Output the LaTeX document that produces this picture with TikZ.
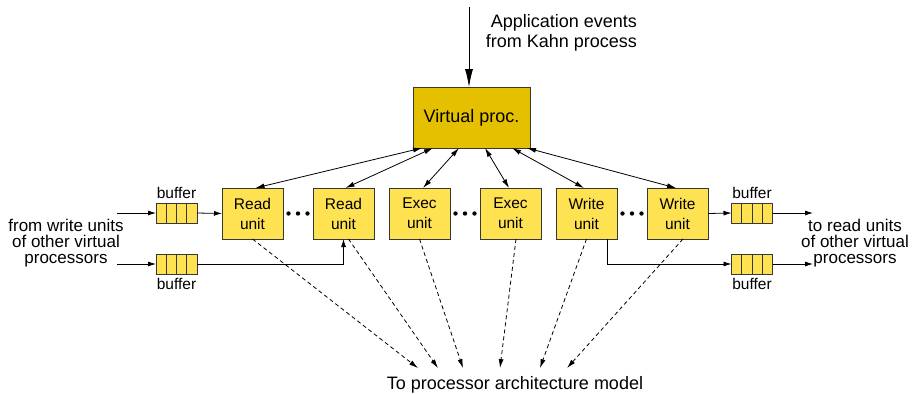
\documentclass[tikz,border=0pt]{standalone}
\usepackage{fontspec}
\setmainfont{Liberation Sans}
\usetikzlibrary{arrows.meta,positioning,calc}
\definecolor{unitfill}{RGB}{255,226,82}
\definecolor{procfill}{RGB}{229,192,0}
\definecolor{boxline}{RGB}{55,55,55}

\begin{document}
\begin{tikzpicture}[x=1pt, y=-1pt, -{Latex[length=8pt,width=5pt]}, line width=0.8pt,
      every node/.append style={inner sep=0pt, outer sep=0pt, font=\fontsize{15.5}{20}\selectfont}]
    \tikzstyle{unit} = [draw=boxline, fill=unitfill, minimum width=61pt, minimum height=51pt, align=center]
    \tikzstyle{proc} = [draw=boxline, fill=procfill, minimum width=117pt, minimum height=61pt, font=\fontsize{18}{20}\selectfont]
    \tikzstyle{buffer} = [draw=boxline, fill=unitfill, minimum width=41pt, minimum height=20pt,
      path picture={\foreach \k in {1,2,3}
        \draw[-,boxline,line width=0.8pt] ([xshift=\k*10.25pt]path picture bounding box.north west)
          -- ([xshift=\k*10.25pt]path picture bounding box.south west);}]
    \tikzstyle{side} = [align=center, font=\fontsize{17}{16}\selectfont]
    \tikzstyle{twoway} = [{Latex[length=9pt,width=5pt]}-{Latex[length=9pt,width=5pt]}]
    \tikzstyle{dashedarrow} = [dash pattern=on 4pt off 3pt, -{Latex[length=9pt,width=5pt]}]
    \useasboundingbox (0,0) rectangle (914,394);
    \node [proc] (vp) at (471.5,117.5) {Virtual proc.};
    \coordinate (appsrc) at (469,7);
    \node [anchor=east, align=right, font=\fontsize{18}{20}\selectfont] (app) at (637,32.5) {Application events\\from Kahn process};
    \node [unit] (read1) at (252.5,213.5) {Read\\unit};
    \node [unit, right=30pt of read1] (read2) {Read\\unit};
    \node [unit, right=15pt of read2] (exec1) {Exec\\unit};
    \node [unit, right=30pt of exec1] (exec2) {Exec\\unit};
    \node [unit, right=15pt of exec2] (write1) {Write\\unit};
    \node [unit, right=30pt of write1] (write2) {Write\\unit};
    \node [buffer] (bufin1) at (176.5,213) {};
    \node [buffer] (bufin2) at (176.5,264) {};
    \node [buffer] (bufout1) at (752,213) {};
    \node [buffer] (bufout2) at (752,264) {};
    \node [above=4pt of bufin1] (labin1) {buffer};
    \node [below=4pt of bufin2] (labin2) {buffer};
    \node [above=4pt of bufout1] (labout1) {buffer};
    \node [below=4pt of bufout2] (labout2) {buffer};
    \node [side] (from) at (66,243.5) {from write units\\of other virtual\\processors};
    \node [side] (to) at (855,243.5) {to read units\\of other virtual\\processors};
    \node [font=\fontsize{18}{20}\selectfont] (model) at (515,385) {To processor architecture model};
    \coordinate (intop) at (117,213);
    \coordinate (inbot) at (117,264);
    \coordinate (outtop) at (813,213);
    \coordinate (outbot) at (813,264);
    \draw [{Latex[length=18pt,width=8pt]}-, shorten <=0pt] (appsrc |- vp.north) -- (appsrc);
    \foreach \a/\b in {read1/read2, exec1/exec2, write1/write2}
      \foreach \d in {-9.5,0,9.5}
        \fill [-] ($(\a.east)!0.5!(\b.west)$) ++(\d,0) circle (2.2pt);
    \foreach \u/\s/\e in {read1/-49.5/3, read2/-38.5/2, exec1/-12.5/3.5, exec2/13.5/-1.5, write1/40.5/-2.5, write2/55.5/-1.5}
      \draw [twoway] ([xshift=\s pt]vp.south) -- ([xshift=\e pt]\u.north);
    \foreach \u/\s/\e in {read1/0/-97, read2/5/-77, exec1/0/-52, exec2/5.5/-15, write1/0/25, write2/5.5/52}
      \draw [dashedarrow] ([xshift=\s pt]\u.south) -- ([xshift=\e pt, yshift=8.5pt]model.north);
    \draw (intop) -- (bufin1.west);
    \draw (bufin1.east) -- (read1.west);
    \draw (inbot) -- (bufin2.west);
    \draw (bufin2.east) -| (read2.south);
    \draw (write2.east) -- (bufout1.west);
    \draw (bufout1.east) -- (outtop);
    \draw ([xshift=20.5pt]write1.south) |- (bufout2.west);
    \draw (bufout2.east) -- (outbot);
\end{tikzpicture}
\end{document}
